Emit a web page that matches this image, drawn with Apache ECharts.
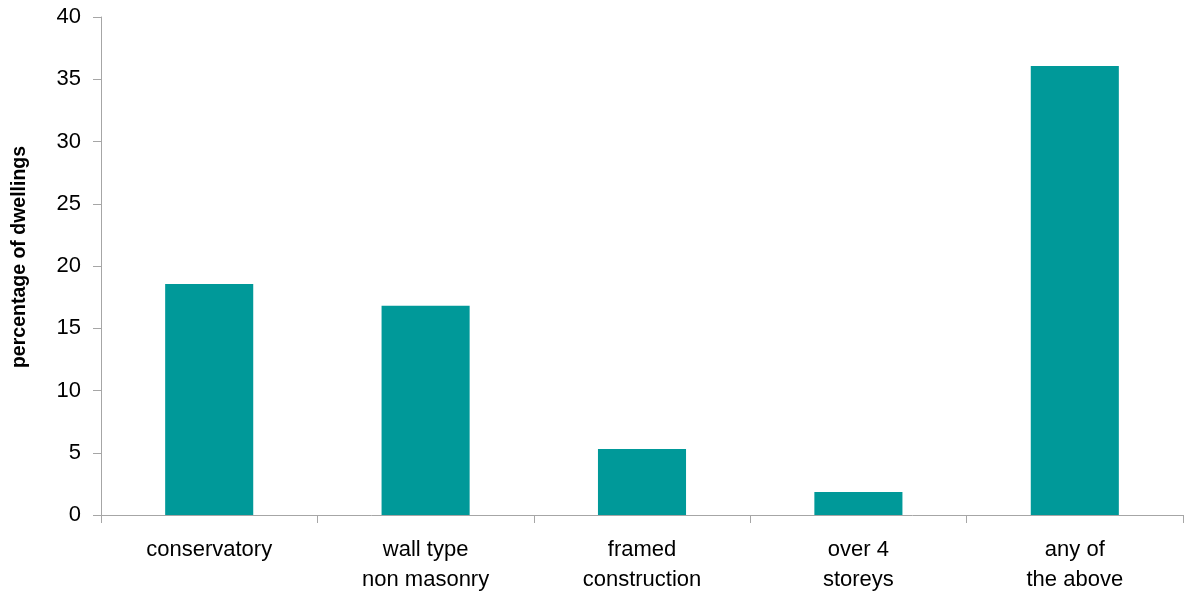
<!DOCTYPE html>
<html><head><meta charset="utf-8">
<script src="https://cdn.jsdelivr.net/npm/echarts@6/dist/echarts.min.js"></script>
<style>html,body{margin:0;padding:0;background:#fff}#c{width:1185px;height:592px}</style>
</head><body><div id="c"></div>
<script>
const categories = ['conservatory', 'wall type\nnon masonry', 'framed\nconstruction', 'over 4\nstoreys', 'any of\nthe above'];
const values = [18.55, 16.8, 5.3, 1.85, 36.07];
const yTicks = [0, 5, 10, 15, 20, 25, 30, 35, 40];
const yTitle = 'percentage of dwellings';

const chart = echarts.init(document.getElementById('c'));
const axisColor = '#a6a6a6';
const font = 'Liberation Sans, Arial, sans-serif';
chart.setOption({
  animation: false,
  grid: {left: 101, right: 2, top: 17, bottom: 77, containLabel: false, outerBoundsMode: 'none'},
  xAxis: {
    type: 'category', data: categories,
    axisLine: {lineStyle: {color: axisColor, width: 1}},
    axisTick: {show: true, alignWithLabel: false, length: 8, lineStyle: {color: axisColor}},
    axisLabel: {color: '#000', fontFamily: font, fontSize: 22, lineHeight: 30, margin: 20, interval: 0}
  },
  yAxis: {
    type: 'value', min: yTicks[0], max: yTicks[yTicks.length - 1], interval: 5,
    name: yTitle, nameLocation: 'middle', nameGap: 71, nameRotate: 90,
    nameTextStyle: {color: '#000', fontFamily: font, fontSize: 19.5, fontWeight: 'bold', padding: [0, 0, 0, 18]},
    axisLine: {show: true, lineStyle: {color: axisColor, width: 1}},
    axisTick: {show: true, inside: false, length: 8, lineStyle: {color: axisColor}},
    splitLine: {show: false},
    axisLabel: {color: '#000', fontFamily: font, fontSize: 22, margin: 20}
  },
  series: [{
    type: 'bar', data: values, barWidth: '40.7%',
    itemStyle: {color: '#009999'}
  }]
});
</script></body></html>
